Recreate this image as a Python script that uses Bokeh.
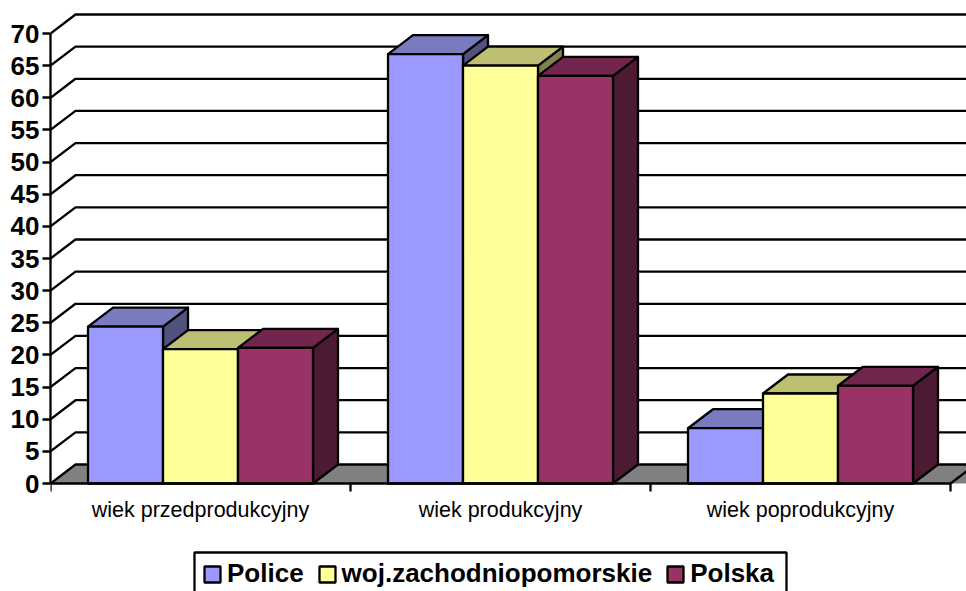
from bokeh.plotting import figure
from bokeh.models import Range1d, LinearAxis, FixedTicker, Legend, LegendItem
from bokeh.core.properties import value
from bokeh.embed import file_html
from bokeh.resources import INLINE

categories = ["wiek przedprodukcyjny", "wiek produkcyjny", "wiek poprodukcyjny"]
police = [24.4, 66.8, 8.6]
zachodniopomorskie = [20.9, 65.0, 14.0]
polska = [21.1, 63.4, 15.2]
series_names = ["Police", "woj.zachodniopomorskie", "Polska"]
y_ticks = list(range(0, 75, 5))

fronts = ["#9999FF", "#FFFF99", "#993366"]
tops = ["#7A7ABF", "#BFBF73", "#73264D"]
sides = ["#525280", "#808050", "#4D1A33"]

W, H = 966, 591
LEFT, BOTTOM = 50, 108          # zero line: 50 px from left, 108 px from bottom
CAT_PX, UNIT_PX = 300.0, 450 / 70
DX, DY = 25 / CAT_PX, 19 / UNIT_PX
BAR_W, GAP = 0.25, 0.125
FONT = "Liberation Sans"
LW = 2.3

p = figure(width=W, height=H, output_backend="svg", toolbar_location=None,
           x_axis_type=None, y_axis_type=None,
           x_range=Range1d(0, (W - LEFT) / CAT_PX),
           y_range=Range1d(-BOTTOM / UNIT_PX, (H - BOTTOM) / UNIT_PX),
           min_border_left=LEFT, min_border_bottom=0,
           min_border_top=0, min_border_right=0)
p.grid.visible = False
p.outline_line_color = None
p.background_fill_color = "white"

xend = 4.0
for t in y_ticks[1:]:
    p.line([0, DX, xend], [t, t + DY, t + DY], line_color="black", line_width=LW)

p.patch([0, DX, xend, xend, 0], [0, DY, DY, 0, 0], fill_color="#808080", line_color=None)
p.line([0, DX, xend], [0, DY, DY], line_color="black", line_width=LW)
p.line([3, 3 + DX], [0, DY], line_color="black", line_width=LW)

all_vals = [police, zachodniopomorskie, polska]
handles = [None, None, None]
for c in range(len(categories)):
    for s, vals in enumerate(all_vals):
        v = vals[c]
        x0 = c + GAP + s * BAR_W
        x1 = x0 + BAR_W
        p.patch([x1, x1 + DX, x1 + DX, x1], [0, DY, v + DY, v],
                fill_color=sides[s], line_color="black", line_width=LW, line_join="round")
        p.patch([x0, x0 + DX, x1 + DX, x1], [v, v + DY, v + DY, v],
                fill_color=tops[s], line_color="black", line_width=LW, line_join="round")
        r = p.quad(left=x0, right=x1, bottom=0, top=v,
                   fill_color=fronts[s], line_color="black", line_width=LW)
        if handles[s] is None:
            handles[s] = r

yax = LinearAxis(ticker=FixedTicker(ticks=y_ticks), bounds=(0, 70),
                 axis_line_color="black", axis_line_width=LW,
                 major_tick_line_color="black", major_tick_line_width=LW,
                 major_tick_out=8, major_tick_in=0, minor_tick_out=0, minor_tick_in=0,
                 major_label_standoff=3,
                 major_label_text_font=FONT, major_label_text_font_style="bold",
                 major_label_text_font_size="26px", major_label_text_color="black")
p.add_layout(yax, "left")

# category axis: base line, ticks between groups, labels under each group
boundaries = [0, 1, 2, 3]
centers = [i + 0.5 for i in range(3)]
p.line([boundaries[0], boundaries[-1]], [0, 0], line_color="black", line_width=LW)
p.segment(x0=boundaries, x1=boundaries, y0=[0] * 4, y1=[-8 / UNIT_PX] * 4,
          line_color="black", line_width=LW)
p.text(x=centers, y=[-26 / UNIT_PX] * 3, text=categories,
       text_font=value(FONT), text_font_size="21.5px", text_color="black",
       text_align="center", text_baseline="middle")

# legend frame (runs off the bottom of the picture, as in the reference)
p.quad(left=(194 - LEFT) / CAT_PX, right=(786 - LEFT) / CAT_PX,
       top=-(552 - 483) / UNIT_PX, bottom=-(600 - 483) / UNIT_PX,
       fill_color="white", line_color="black", line_width=LW)

legend = Legend(items=[LegendItem(label=n, renderers=[h]) for n, h in zip(series_names, handles)],
                orientation="horizontal", location=(142, -8),
                label_text_font=FONT, label_text_font_style="bold",
                label_text_font_size="26px", label_text_color="black",
                glyph_width=20, glyph_height=20, spacing=13, padding=10, margin=0,
                label_standoff=5, border_line_color="black", border_line_alpha=0,
                background_fill_alpha=0)
p.add_layout(legend, "center")

html = file_html(p, INLINE).replace("<body>", '<body style="margin:0;overflow:hidden">')
open("out.html", "w").write(html)
